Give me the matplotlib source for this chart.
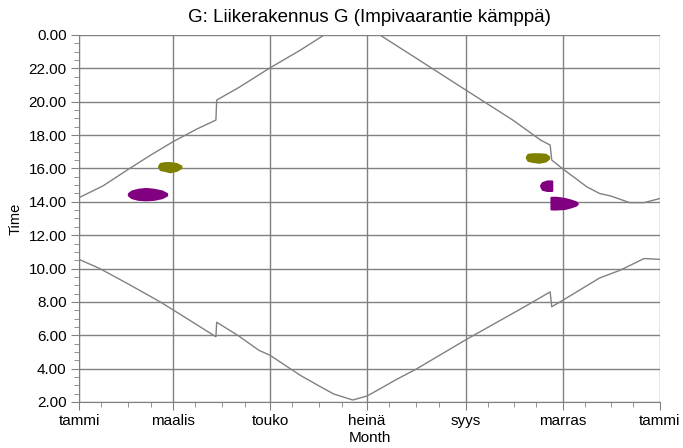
import numpy as np
import matplotlib
matplotlib.use("Agg")
import matplotlib.pyplot as plt
from matplotlib.ticker import FixedLocator, FuncFormatter

plt.rcParams['font.family'] = ['Liberation Sans', 'DejaVu Sans']

# sun set / sun rise (day of year, hour)
sunset_day = [0, 15, 31, 45, 59, 74, 86, 86.5, 100, 120, 139, 154, 172, 189,
              212, 243, 273, 290, 296, 297, 304, 319, 327, 334, 346, 355, 365]
sunset_h = [14.25, 14.95, 15.95, 16.8, 17.6, 18.36, 18.9, 20.1, 20.83, 22.03, 23.09, 24.0, 24.6, 24.0,
            22.6, 20.7, 18.87, 17.7, 17.4, 16.5, 15.97, 14.9, 14.5, 14.35, 13.95, 13.95, 14.2]

sunrise_day = [0, 13, 31, 51, 63.5, 86, 86.5, 100, 113, 120, 139, 151, 160, 172, 181, 190,
               200, 212, 243, 265, 279, 296, 297, 304, 327, 340, 355, 365]
sunrise_h = [10.55, 10.0, 9.07, 8.0, 7.26, 5.91, 6.78, 5.98, 5.1, 4.8, 3.6, 2.95, 2.48, 2.12, 2.36, 2.84,
             3.38, 3.98, 5.73, 6.91, 7.66, 8.6, 7.71, 8.1, 9.43, 9.9, 10.6, 10.55]

# shadow flicker periods: days, start hour, end hour
flick_a_day = [31, 33, 37, 42, 47, 52, 55]
flick_a_start = [14.4, 14.25, 14.15, 14.12, 14.15, 14.25, 14.4]
flick_a_end = [14.5, 14.65, 14.75, 14.8, 14.75, 14.65, 14.5]

flick_b_day = [50, 51, 54, 57, 61, 64]
flick_b_start = [16.1, 15.93, 15.88, 15.8, 15.88, 16.05]
flick_b_end = [16.15, 16.3, 16.35, 16.35, 16.3, 16.15]

flick_c_day = [281, 282, 285, 289, 293, 295]
flick_c_start = [16.65, 16.48, 16.42, 16.37, 16.45, 16.6]
flick_c_end = [16.7, 16.85, 16.88, 16.88, 16.85, 16.72]

flick_d_day = [290, 291, 294, 297]
flick_d_start = [14.95, 14.75, 14.68, 14.68]
flick_d_end = [15.0, 15.15, 15.25, 15.25]

flick_e_day = [296.5, 300, 305, 309, 312, 313]
flick_e_start = [13.57, 13.57, 13.6, 13.7, 13.8, 13.88]
flick_e_end = [14.27, 14.27, 14.2, 14.1, 14.0, 13.92]

month_pos = [0, 59, 120, 181, 243, 304, 365]
month_lbl = ['tammi', 'maalis', 'touko', 'heinä', 'syys', 'marras', 'tammi']
minor_pos = [14, 31, 45, 73, 90, 104, 134, 151, 165, 195, 212, 226,
             257, 273, 287, 318, 334, 348]

grey = '#808080'
purple = '#800080'
olive = '#808000'

fig = plt.figure(figsize=(6.83, 4.48), dpi=100)
ax = fig.add_axes([0.1157, 0.1027, 0.8506, 0.8192])

ax.plot(sunset_day, sunset_h, color=grey, lw=1)
ax.plot(sunrise_day, sunrise_h, color=grey, lw=1)

for d, s, e, c in [(flick_a_day, flick_a_start, flick_a_end, purple),
                   (flick_b_day, flick_b_start, flick_b_end, olive),
                   (flick_c_day, flick_c_start, flick_c_end, olive),
                   (flick_d_day, flick_d_start, flick_d_end, purple),
                   (flick_e_day, flick_e_start, flick_e_end, purple)]:
    ax.fill_between(d, s, e, color=c, lw=1.5, edgecolor=c)

ax.set_xlim(0, 365)
ax.set_ylim(2, 24)

ax.xaxis.set_major_locator(FixedLocator(month_pos))
ax.set_xticklabels(month_lbl, fontsize=11)
ax.xaxis.set_minor_locator(FixedLocator(minor_pos))
ax.yaxis.set_major_locator(FixedLocator(np.arange(2, 25, 2)))
ax.yaxis.set_minor_locator(FixedLocator(np.arange(2, 24.01, 0.5)))
ax.yaxis.set_major_formatter(FuncFormatter(lambda v, p: '0.00' if v >= 24 else f'{v:.2f}'))
for lb in ax.get_yticklabels():
    lb.set_fontsize(11)

ax.tick_params(which='major', length=6, color=grey, labelsize=11, pad=3)
ax.tick_params(which='minor', length=3.5, color=grey)
ax.grid(True, which='major', color=grey, lw=1)
ax.set_axisbelow(True)

for side in ['top', 'right']:
    ax.spines[side].set_visible(False)
for side in ['left', 'bottom']:
    ax.spines[side].set_color(grey)

ax.set_xlabel('Month', fontsize=11, labelpad=1.5)
ax.set_ylabel('Time', fontsize=10.5, labelpad=4)
ax.set_title('G: Liikerakennus G (Impivaarantie kämppä)', fontsize=13.5, pad=9)

fig.savefig('out.png', dpi=100)
